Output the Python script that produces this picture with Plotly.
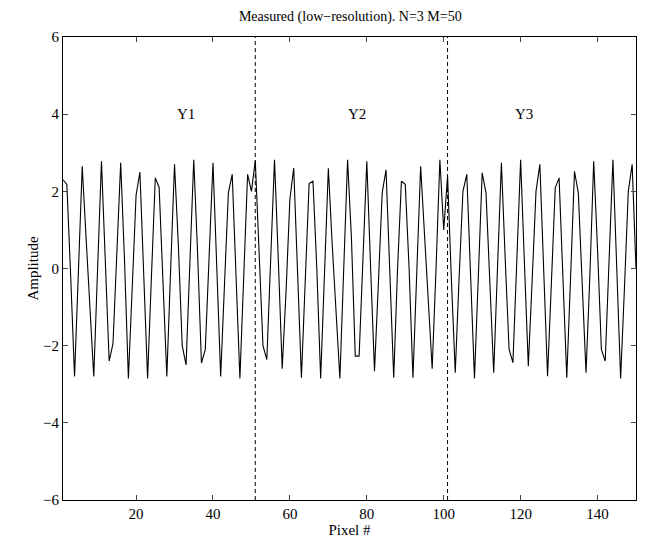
import plotly.graph_objects as go

pixel = list(range(1, 151))
amplitude = [
    2.3, 2.18, -0.2, -2.8, -0.1, 2.65, 0.8, -1.0, -2.8, 0.0,
    2.78, 0.2, -2.4, -1.95, 0.2, 2.74, 0.2, -2.85, -0.5, 1.9,
    2.5, 0.0, -2.85, -0.2, 2.35, 2.1, -0.3, -2.8, 0.0, 2.7,
    0.6, -2.0, -2.5, 0.15, 2.82, 0.4, -2.45, -2.1, 0.5, 2.74,
    0.0, -2.8, -0.4, 1.96, 2.44, -0.2, -2.85, -0.2, 2.44, 2.0,
    2.8, 0.4, -2.0, -2.36, 0.23, 2.82, 0.2, -2.6, -0.6, 1.8,
    2.6, 0.0, -2.83, -0.3, 2.2, 2.26, 0.0, -2.85, -0.1, 2.6,
    0.63, -1.15, -2.85, 0.0, 2.82, 0.8, -2.27, -2.27, 0.36, 2.78,
    0.0, -2.66, -0.4, 1.96, 2.56, 0.0, -2.83, 0.0, 2.26, 2.18,
    0.0, -2.83, -0.1, 2.65, 0.89, -0.81, -2.6, 0.0, 2.82, 1.0,
    2.4, -0.3, -2.7, -0.24, 2.0, 2.44, -0.2, -2.85, -0.2, 2.48,
    1.96, -0.2, -2.7, 0.06, 2.74, 0.22, -2.1, -2.44, 0.19, 2.82,
    0.1, -2.53, -0.3, 2.0, 2.7, 0.12, -2.79, -0.37, 2.09, 2.35,
    -0.1, -2.83, -0.2, 2.52, 1.96, -0.4, -2.7, -0.2, 2.78, 0.5,
    -2.1, -2.4, 0.17, 2.82, 0.0, -2.85, -0.5, 2.0, 2.7, 0.0,
]
segment_bounds = [51, 101]
segment_labels = ["Y1", "Y2", "Y3"]
segment_label_x = [33, 77.5, 121]
segment_label_y = 4.0
x_ticks = [20, 40, 60, 80, 100, 120, 140]
y_ticks = [-6, -4, -2, 0, 2, 4, 6]

FONT = "Liberation Serif, Times New Roman, serif"

fig = go.Figure()
fig.add_trace(go.Scatter(x=pixel, y=amplitude, mode="lines",
                         line=dict(color="black", width=1.1), showlegend=False))
for b in segment_bounds:
    fig.add_shape(type="line", x0=b, x1=b, y0=-6, y1=6, xref="x", yref="y",
                  line=dict(color="black", width=1, dash="4px,3px"))
for lab, lx in zip(segment_labels, segment_label_x):
    fig.add_annotation(x=lx, y=segment_label_y, text=lab, showarrow=False,
                       font=dict(family=FONT, size=15, color="black"))

fig.update_layout(
    template="none",
    width=647, height=541,
    margin=dict(l=55, r=19, t=29, b=49),
    paper_bgcolor="white", plot_bgcolor="white",
    font=dict(family=FONT, size=14, color="black"),
    title=dict(text="Measured (low\u2212resolution). N=3 M=50", x=0.529, xanchor="center",
               y=0.994, yanchor="top", font=dict(family=FONT, size=14)),
)
fig.update_xaxes(range=[1, 150], tickvals=x_ticks, ticks="inside", ticklen=5,
                 showline=True, linecolor="black", linewidth=1, mirror="ticks",
                 showgrid=False, zeroline=False, tickfont=dict(size=15), automargin=False,
                 title=dict(text="Pixel #", standoff=0, font=dict(size=15)))
fig.update_yaxes(range=[-6, 6], tickvals=y_ticks, ticks="inside", ticklen=5,
                 showline=True, linecolor="black", linewidth=1, mirror="ticks",
                 showgrid=False, zeroline=False, tickfont=dict(size=15), automargin=False,
                 title=dict(text="Amplitude", standoff=0, font=dict(size=15)))

fig.write_html("out.html")
